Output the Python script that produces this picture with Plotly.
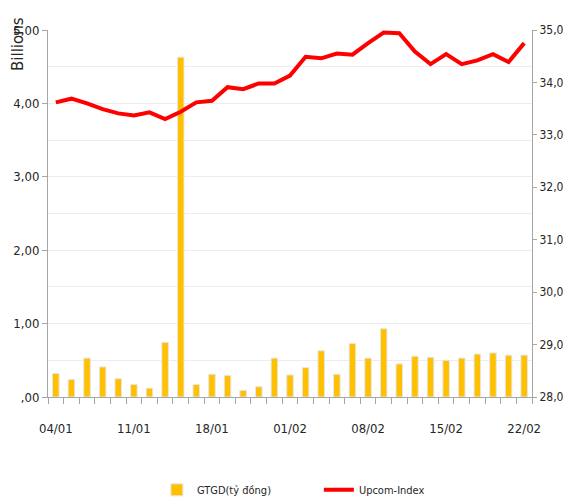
import plotly.graph_objects as go

# ---- data ----
dates = ["04/01", "", "", "", "", "11/01", "", "", "", "", "18/01", "", "", "", "",
         "01/02", "", "", "", "", "08/02", "", "", "", "", "15/02", "", "", "", "", "22/02"]
gtgd = [0.32, 0.24, 0.53, 0.41, 0.25, 0.17, 0.12, 0.745, 4.63, 0.17,
        0.31, 0.295, 0.09, 0.14, 0.53, 0.30, 0.40, 0.63, 0.31, 0.73,
        0.53, 0.93, 0.45, 0.555, 0.54, 0.50, 0.53, 0.585, 0.60, 0.57, 0.57]
upcom = [33.62, 33.69, 33.60, 33.49, 33.41, 33.37, 33.43, 33.30, 33.44, 33.62,
         33.65, 33.91, 33.87, 33.98, 33.98, 34.13, 34.49, 34.46, 34.55, 34.53,
         34.75, 34.95, 34.94, 34.59, 34.35, 34.54, 34.35, 34.42, 34.54, 34.39, 34.75]
left_ticks = [0, 1, 2, 3, 4, 5]
left_labels = [",00", "1,00", "2,00", "3,00", "4,00", "5,00"]
right_ticks = [28, 29, 30, 31, 32, 33, 34, 35]
right_labels = ["28,0", "29,0", "30,0", "31,0", "32,0", "33,0", "34,0", "35,0"]
bar_name = "GTGD(tỷ đồng)"
line_name = "Upcom-Index"

n = len(gtgd)
x = list(range(1, n + 1))
label_vals = [x[i] for i in range(n) if dates[i]]
label_text = [d for d in dates if d]

FONT = "DejaVu Sans Condensed, Liberation Sans Narrow, sans-serif"

fig = go.Figure()
fig.add_trace(go.Bar(x=x, y=gtgd, name=bar_name,
                     marker=dict(color="#FFC000", line=dict(color="#E6E6E6", width=1)),
                     yaxis="y"))
fig.add_trace(go.Scatter(x=x, y=upcom, name=line_name, mode="lines",
                         line=dict(color="#FF0000", width=4), yaxis="y2"))

fig.update_layout(
    width=566, height=498,
    margin=dict(l=48, r=34, t=30, b=101, autoexpand=False),
    paper_bgcolor="white", plot_bgcolor="white",
    font=dict(family=FONT, size=13, color="#262626"),
    bargap=0.58,
    showlegend=True,
    legend=dict(orientation="h", x=0.225, y=-0.253, xanchor="left", yanchor="middle",
                font=dict(family=FONT, size=11, color="#262626"),
                entrywidth=117, entrywidthmode="pixels", itemwidth=30),
    xaxis=dict(range=[0.5, n + 0.5], tickvals=label_vals, ticktext=label_text,
               ticks="", showgrid=False, showline=True, linecolor="#A6A6A6", linewidth=1,
               ticklabelstandoff=19,
               minor=dict(tickvals=[i + 0.5 for i in range(n + 1)], ticks="outside",
                          ticklen=6, tickcolor="#A6A6A6", showgrid=False)),
    yaxis=dict(range=[0, 5], tickvals=left_ticks, ticktext=left_labels,
               ticks="outside", ticklen=5, tickcolor="#A6A6A6",
               showline=True, linecolor="#A6A6A6", linewidth=1,
               showgrid=True, gridcolor="#EDEDED", gridwidth=1, zeroline=False,
               minor=dict(dtick=0.5, showgrid=True, gridcolor="#EDEDED", ticks="")),
    yaxis2=dict(range=[28, 35], overlaying="y", side="right", tickvals=right_ticks, ticktext=right_labels,
                ticks="outside", ticklen=4, tickcolor="#A6A6A6", tickfont=dict(size=12),
                showline=True, linecolor="#A6A6A6", linewidth=1, showgrid=False, zeroline=False),
)

fig.add_annotation(text="Billions", xref="paper", yref="paper", x=-0.062, y=1.0,
                   xanchor="center", yanchor="middle", textangle=-90, showarrow=False,
                   font=dict(family="DejaVu Sans, sans-serif", size=15, color="#262626"),
                   yshift=-14)

# remove the default page margin so the figure fills the window exactly
fig.write_html("out.html", config={"displayModeBar": False},
               post_script="document.body.style.margin='0';document.body.style.overflow='hidden';")
